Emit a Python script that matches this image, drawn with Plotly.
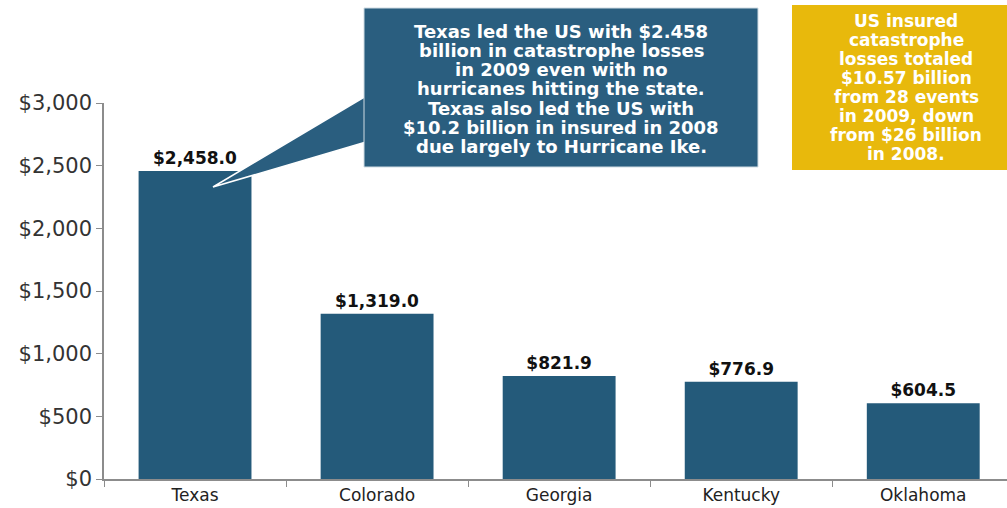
import plotly.graph_objects as go

states = ["Texas", "Colorado", "Georgia", "Kentucky", "Oklahoma"]
losses = [2458.0, 1319.0, 821.9, 776.9, 604.5]
y_ticks = [0, 500, 1000, 1500, 2000, 2500, 3000]
y_tick_labels = ["$0", "$500", "$1,000", "$1,500", "$2,000", "$2,500", "$3,000"]

callout_lines = [
    "Texas led the US with $2.458",
    "billion in catastrophe losses",
    "in 2009 even with no",
    "hurricanes hitting the state.",
    "Texas also led the US with",
    "$10.2 billion in insured in 2008",
    "due largely to Hurricane Ike.",
]
side_lines = [
    "US insured",
    "catastrophe",
    "losses totaled",
    "$10.57 billion",
    "from 28 events",
    "in 2009, down",
    "from $26 billion",
    "in 2008.",
]

W, H = 1007, 508
L, R, T, B = 104, 0, 103, 29
pw, ph = W - L - R, H - T - B


def px(x):
    return (x - L) / pw


def py(y):
    return (H - B - y) / ph


BAR = "#245a7a"
BOX = "#2a5e7f"
GOLD = "#e8b90c"
FONT = "DejaVu Sans, Verdana, sans-serif"

fig = go.Figure()
fig.add_trace(go.Bar(
    x=states, y=losses, width=0.62,
    marker=dict(color=BAR, line=dict(width=0)),
    texttemplate="<b>$%{y:,.1f}</b>", textposition="outside",
    textfont=dict(family=FONT, size=17, color="#111111"),
    cliponaxis=False,
))

shapes = [
    # callout pointer
    dict(type="path", xref="paper", yref="paper",
         path=f"M {px(366)} {py(96)} L {px(213)} {py(187)} L {px(366)} {py(142)} Z",
         fillcolor=BOX, line=dict(color="white", width=1.5), layer="above"),
    # callout box
    dict(type="rect", xref="paper", yref="paper",
         x0=px(364), x1=px(758), y0=py(167), y1=py(8),
         fillcolor=BOX, line=dict(color="#cfdbe3", width=1), layer="above"),
    # hide pointer outline inside box
    dict(type="rect", xref="paper", yref="paper",
         x0=px(365), x1=px(370), y0=py(150), y1=py(90),
         fillcolor=BOX, line=dict(width=0), layer="above"),
    # yellow box
    dict(type="rect", xref="paper", yref="paper",
         x0=px(792), x1=px(1010), y0=py(170), y1=py(5),
         fillcolor=GOLD, line=dict(width=0), layer="above"),
]

annotations = []
for i, line in enumerate(callout_lines):
    annotations.append(dict(
        xref="paper", yref="paper", x=px(561), y=py(31 + i * 19.3),
        text=f"<b>{line}</b>", showarrow=False, xanchor="center", yanchor="middle",
        font=dict(family=FONT, size=18, color="white")))
for i, line in enumerate(side_lines):
    annotations.append(dict(
        xref="paper", yref="paper", x=px(906), y=py(21 + i * 19.0),
        text=f"<b>{line}</b>", showarrow=False, xanchor="center", yanchor="middle",
        font=dict(family=FONT, size=17, color="white")))

fig.update_layout(
    width=W, height=H,
    margin=dict(l=L, r=R, t=T, b=B, pad=0),
    paper_bgcolor="white", plot_bgcolor="white",
    showlegend=False,
    shapes=shapes, annotations=annotations,
    xaxis=dict(range=[-0.5, 4.46], showline=True, linecolor="#8c8c8c", linewidth=1.5,
               ticks="outside", tickson="boundaries", ticklen=6, tickcolor="#8c8c8c",
               tickfont=dict(family=FONT, size=17, color="#222222"), showgrid=False,
               ticklabelstandoff=0, automargin=False, fixedrange=True),
    yaxis=dict(range=[0, 3000], tickvals=y_ticks, ticktext=y_tick_labels,
               showline=True, linecolor="#8c8c8c", linewidth=1.5,
               ticks="outside", ticklen=6, tickcolor="#8c8c8c",
               tickfont=dict(family=FONT, size=21, color="#333333"),
               showgrid=False, zeroline=False, automargin=False, fixedrange=True),
    bargap=0.38,
)

fig.write_html("out.html", config={"displayModeBar": False},
               post_script="document.body.style.margin='0px';document.body.style.padding='0px';")
